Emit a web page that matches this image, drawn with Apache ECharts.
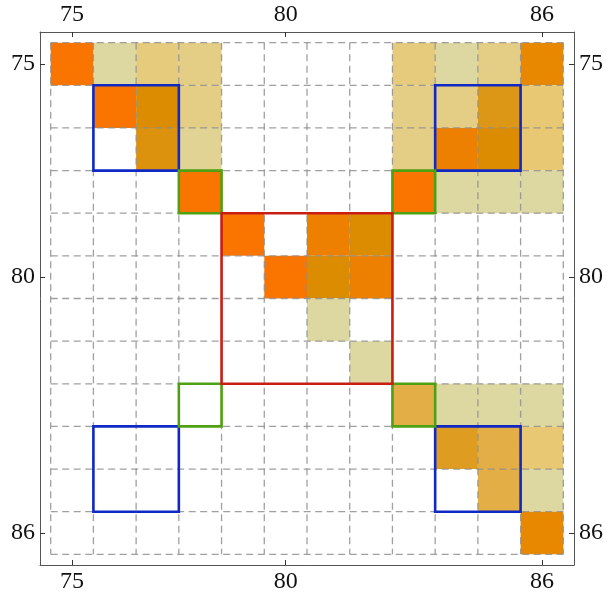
<!DOCTYPE html>
<html><head><meta charset="utf-8">
<script src="https://cdn.jsdelivr.net/npm/echarts@6/dist/echarts.min.js"></script>
<style>html,body{margin:0;padding:0;background:#fff}#c{width:607px;height:603px}</style>
</head><body><div id="c"></div><script>
// ---- data ----
const labels = [75, 76, 77, 78, 79, 80, 81, 82, 83, 84, 85, 86];
const tickLabels = [75, 80, 86];
const n = null;
// level of each cell (row = label, column = label); null = empty
const row75 = [9, 0, 2, 1, n, n, n, n, 2, 0, 1, 7];
const row76 = [n, 9, 6, 1, n, n, n, n, 1, 1, 5.3, 3];
const row77 = [n, n, 5.6, 0.5, n, n, n, n, 1, 8, 6, 3];
const row78 = [n, n, n, 9, n, n, n, n, 9, 0, 0, 0];
const row79 = [n, n, n, n, 9, n, 8, 6, n, n, n, n];
const row80 = [n, n, n, n, n, 9, 6, 8, n, n, n, n];
const row81 = [n, n, n, n, n, n, 0, n, n, n, n, n];
const row82 = [n, n, n, n, n, n, n, 0, n, n, n, n];
const row83 = [n, n, n, n, n, n, n, n, 4, 0, 0, 0];
const row84 = [n, n, n, n, n, n, n, n, n, 5, 4, 3];
const row85 = [n, n, n, n, n, n, n, n, n, n, 4, 0];
const row86 = [n, n, n, n, n, n, n, n, n, n, n, 7];
const rows = [row75, row76, row77, row78, row79, row80, row81, row82, row83, row84, row85, row86];
// outlined blocks
const blockRowStart = [76, 76, 84, 84, 78, 78, 83, 83, 79];
const blockRowEnd   = [77, 77, 85, 85, 78, 78, 83, 83, 82];
const blockColStart = [76, 84, 76, 84, 78, 83, 78, 83, 79];
const blockColEnd   = [77, 85, 77, 85, 78, 83, 78, 83, 82];
const blockKind = ['blue', 'blue', 'blue', 'blue', 'green', 'green', 'green', 'green', 'red'];

// ---- styles ----
const palette = ['#DDD7A1', '#E4CE86', '#E7CB7C', '#E9C873', '#E3AE45', '#DE9C20', '#DC8C00', '#E88800', '#EE8000', '#FA7500'];
const kindColor = { blue: '#1028C4', green: '#4FA012', red: '#C81E14' };

const cellData = [];
rows.forEach((r, i) => r.forEach((v, j) => { if (v !== null) cellData.push([labels[j], labels[i], v]); }));
const gridData = [];
for (let k = 0; k <= labels.length; k++) {
  const b = labels[0] - 0.5 + k;
  gridData.push([b, 0]); gridData.push([b, 1]);
}
const lo = labels[0] - 0.5, hi = labels[labels.length - 1] + 0.5;
const blockData = blockKind.map((k, i) => [blockColStart[i] - 0.5, blockRowStart[i] - 0.5, blockColEnd[i] + 0.5, blockRowEnd[i] + 0.5, i]);

const axMin = labels[0] - 0.75, axMax = labels[labels.length - 1] + 0.75;
const font = { fontFamily: "'Liberation Serif', 'Times New Roman', serif", fontSize: 24, color: '#111' };
function mkAxis(pos, inverse) {
  return {
    type: 'value', position: pos, min: axMin, max: axMax, inverse: !!inverse,
    axisLine: { show: true, onZero: false, lineStyle: { color: '#555', width: 1 } },
    axisTick: { show: true, inside: true, length: 5, customValues: tickLabels, lineStyle: { color: '#333' } },
    axisLabel: Object.assign({ show: true, margin: 5, customValues: tickLabels }, font),
    splitLine: { show: false }
  };
}
const chart = echarts.init(document.getElementById('c'), null, { renderer: 'canvas' });
chart.setOption({
  animation: false,
  backgroundColor: '#fff',
  grid: { left: 40, top: 32, width: 534, height: 533 },
  xAxis: [mkAxis('top'), mkAxis('bottom')],
  yAxis: [mkAxis('left', true), mkAxis('right', true)],
  visualMap: { show: false, type: 'continuous', min: 0, max: palette.length - 1, dimension: 2, seriesIndex: 0, inRange: { color: palette } },
  series: [
    {
      type: 'custom', data: cellData, encode: { x: 0, y: 1 },
      renderItem: (params, api) => {
        const p0 = api.coord([api.value(0) - 0.5, api.value(1) - 0.5]);
        const p1 = api.coord([api.value(0) + 0.5, api.value(1) + 0.5]);
        return { type: 'rect', shape: { x: Math.min(p0[0], p1[0]), y: Math.min(p0[1], p1[1]), width: Math.abs(p1[0] - p0[0]), height: Math.abs(p1[1] - p0[1]) },
          style: { fill: api.visual('color') } };
      }
    },
    {
      type: 'custom', data: gridData, encode: { x: 0 }, silent: true,
      renderItem: (params, api) => {
        const b = api.value(0), vert = api.value(1) === 0;
        const a = vert ? api.coord([b, lo]) : api.coord([lo, b]);
        const c = vert ? api.coord([b, hi]) : api.coord([hi, b]);
        return { type: 'line', shape: { x1: a[0], y1: a[1], x2: c[0], y2: c[1] },
          style: { stroke: '#8f8f8f', lineWidth: 1.3, lineDash: [7, 4.5], opacity: 0.85 } };
      }
    },
    {
      type: 'custom', data: blockData, encode: { x: [0, 2], y: [1, 3] }, silent: true,
      renderItem: (params, api) => {
        const p0 = api.coord([api.value(0), api.value(1)]);
        const p1 = api.coord([api.value(2), api.value(3)]);
        const kind = blockKind[api.value(4)];
        return { type: 'rect', shape: { x: Math.min(p0[0], p1[0]), y: Math.min(p0[1], p1[1]), width: Math.abs(p1[0] - p0[0]), height: Math.abs(p1[1] - p0[1]) },
          style: { fill: null, stroke: kindColor[kind], lineWidth: 2.6 } };
      }
    }
  ]
});
</script></body></html>
